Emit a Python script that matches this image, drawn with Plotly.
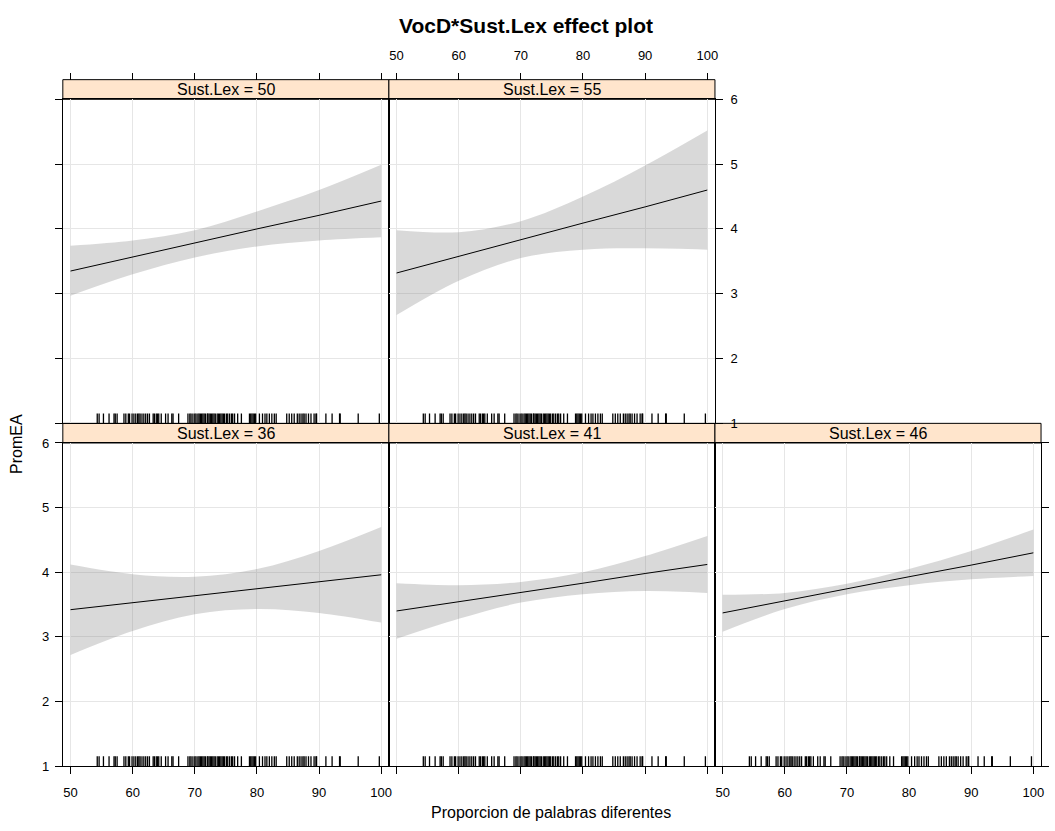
import plotly.graph_objects as go

# ---- data -------------------------------------------------------------
vocd_grid = [50, 60, 70, 80, 90, 100]

fit_50 = [3.35, 3.57, 3.78, 4.00, 4.21, 4.43]
lower_50 = [2.97, 3.30, 3.56, 3.73, 3.82, 3.87]
upper_50 = [3.74, 3.82, 3.98, 4.27, 4.60, 4.99]

fit_55 = [3.32, 3.58, 3.83, 4.09, 4.34, 4.60]
lower_55 = [2.67, 3.20, 3.55, 3.68, 3.70, 3.68]
upper_55 = [3.98, 3.95, 4.12, 4.50, 4.98, 5.52]

fit_36 = [3.42, 3.53, 3.64, 3.74, 3.85, 3.96]
lower_36 = [2.72, 3.09, 3.35, 3.43, 3.37, 3.22]
upper_36 = [4.12, 3.97, 3.93, 4.05, 4.33, 4.70]

fit_41 = [3.40, 3.54, 3.69, 3.83, 3.98, 4.12]
lower_41 = [2.97, 3.28, 3.53, 3.66, 3.71, 3.68]
upper_41 = [3.83, 3.80, 3.85, 4.00, 4.25, 4.56]

fit_46 = [3.37, 3.56, 3.74, 3.93, 4.11, 4.30]
lower_46 = [3.08, 3.43, 3.66, 3.80, 3.89, 3.94]
upper_46 = [3.65, 3.68, 3.82, 4.05, 4.33, 4.66]

# observed VocD values shown as a rug in every panel
rug_vocd = [
    54.3, 54.6, 55.3, 56.2, 57.0, 57.2, 57.5, 58.6, 58.9, 59.3, 59.5, 59.9,
    60.2, 60.5, 60.8, 61.0, 61.2, 61.5, 61.8, 62.1, 62.4, 62.7, 63.3, 63.5,
    63.8, 64.0, 64.2, 64.6, 65.3, 65.7, 66.3, 66.5, 67.4, 68.9, 69.2, 69.4,
    69.7, 70.0, 70.2, 70.5, 70.7, 70.9, 71.1, 71.3, 71.5, 71.7, 72.0, 72.1,
    72.3, 72.5, 72.7, 72.9, 73.1, 73.3, 73.6, 73.8, 74.0, 74.2, 74.4, 74.6,
    74.8, 75.1, 75.3, 75.6, 75.9, 76.1, 76.4, 76.9, 77.5, 78.8, 79.0, 79.2,
    79.4, 79.6, 79.8, 80.4, 80.9, 81.3, 81.6, 82.0, 82.4, 82.8, 83.1, 84.8,
    85.2, 85.6, 86.0, 86.5, 86.8, 87.1, 87.4, 87.6, 87.9, 88.3, 88.7, 89.2,
    89.5, 89.6, 91.1, 92.1, 93.3, 93.4, 96.3, 99.7,
]

x_ticks = [50, 60, 70, 80, 90, 100]
y_ticks = [1, 2, 3, 4, 5, 6]
x_range = [48.76, 101.24]
y_range = [1, 6]

panel_labels = ["Sust.Lex = 50", "Sust.Lex = 55",
                "Sust.Lex = 36", "Sust.Lex = 41", "Sust.Lex = 46"]
panel_series = [(fit_50, lower_50, upper_50), (fit_55, lower_55, upper_55),
                (fit_36, lower_36, upper_36), (fit_41, lower_41, upper_41),
                (fit_46, lower_46, upper_46)]
panel_cells = [(0, 0), (1, 0), (0, 1), (1, 1), (2, 1)]  # (column, row)

# ---- layout geometry (pixels) ------------------------------------------
W, H = 1055, 831
col_left = [63, 390, 717]
panel_w = 327
row_top = [94, 444]
row_bottom = [424, 773]
strip_h = 20

FONT = "Liberation Sans, Arial, Helvetica, sans-serif"


def fx(p):
    return p / W


def fy(p):
    return 1 - p / H


tick_font = dict(family=FONT, size=13, color="black")
grid_col = "#e6e6e6"

fig = go.Figure()
layout = dict(width=W, height=H, autosize=False,
              margin=dict(l=0, r=0, t=0, b=0),
              plot_bgcolor="white", paper_bgcolor="white",
              showlegend=False, font=dict(family=FONT, color="black"))
shapes = []
annotations = []

for i, (label, (fit, lo, up), (c, r)) in enumerate(
        zip(panel_labels, panel_series, panel_cells), start=1):
    xa, ya = f"x{i}", f"y{i}"
    # confidence band
    fig.add_trace(go.Scatter(x=vocd_grid, y=lo, mode="lines",
                             line=dict(width=0, shape="spline"),
                             xaxis=xa, yaxis=ya, hoverinfo="skip"))
    fig.add_trace(go.Scatter(x=vocd_grid, y=up, mode="lines",
                             line=dict(width=0, shape="spline"),
                             fill="tonexty", fillcolor="rgba(128,128,128,0.30)",
                             xaxis=xa, yaxis=ya, hoverinfo="skip"))
    # fitted effect
    fig.add_trace(go.Scatter(x=vocd_grid, y=fit, mode="lines",
                             line=dict(color="black", width=1),
                             xaxis=xa, yaxis=ya))
    # rug
    fig.add_trace(go.Scatter(x=rug_vocd, y=[y_range[0]] * len(rug_vocd),
                             mode="markers", cliponaxis=True,
                             marker=dict(symbol="line-ns", size=14,
                                         line=dict(width=1.3, color="black")),
                             xaxis=xa, yaxis=ya, hoverinfo="skip"))

    x0, x1 = col_left[c], col_left[c] + panel_w
    y0, y1 = row_top[r], row_bottom[r]
    bottom_row = r == 1
    layout[f"xaxis{i}"] = dict(
        domain=[fx(x0), fx(x1)], range=x_range, anchor=ya,
        tickvals=x_ticks, ticks="outside" if bottom_row else "",
        ticklen=7, tickcolor="black", tickwidth=1, ticklabelstandoff=7,
        showticklabels=bottom_row and c in (0, 2), tickfont=tick_font,
        showgrid=True, gridcolor=grid_col, gridwidth=1, zeroline=False,
        showline=True, mirror=True, linecolor="black", linewidth=1)
    layout[f"yaxis{i}"] = dict(
        domain=[fy(y1), fy(y0)], range=y_range, anchor=xa,
        tickvals=y_ticks, ticks="outside" if c == 0 else "",
        ticklen=7, tickcolor="black", tickwidth=1, ticklabelstandoff=3,
        showticklabels=(c == 0 and bottom_row), tickfont=tick_font,
        showgrid=True, gridcolor=grid_col, gridwidth=1, zeroline=False,
        showline=True, mirror=True, linecolor="black", linewidth=1)

    # strip
    shapes.append(dict(type="rect", xref="paper", yref="paper",
                       x0=fx(x0), x1=fx(x1), y0=fy(y0), y1=fy(y0 - strip_h),
                       fillcolor="#ffe5cc", line=dict(color="black", width=1),
                       layer="below"))
    annotations.append(dict(text=label, xref="paper", yref="paper",
                            x=fx((x0 + x1) / 2), y=fy(y0 - strip_h / 2),
                            showarrow=False, xanchor="center", yanchor="middle",
                            font=dict(family=FONT, size=16, color="black")))

# top axes (above the strips) for the upper row
for j, (base, show) in enumerate([(1, False), (2, True)]):
    k = 6 + j
    c, r = panel_cells[base - 1]
    x0 = col_left[c]
    layout[f"xaxis{k}"] = dict(
        domain=[fx(x0), fx(x0 + panel_w)], range=x_range,
        overlaying=f"x{base}", side="top", anchor="free",
        position=fy(row_top[r] - strip_h),
        tickvals=x_ticks, ticks="outside", ticklen=7, tickcolor="black",
        tickwidth=1, ticklabelstandoff=7, showticklabels=show,
        tickfont=tick_font, showgrid=False, zeroline=False, showline=False)
    fig.add_trace(go.Scatter(x=[], y=[], xaxis=f"x{k}", yaxis=f"y{base}"))

# right axes
for j, (base, show) in enumerate([(2, True), (5, False)]):
    k = 8 + j
    c, r = panel_cells[base - 1]
    layout[f"yaxis{k}"] = dict(
        domain=[fy(row_bottom[r]), fy(row_top[r])], range=y_range,
        overlaying=f"y{base}", side="right", anchor=f"x{base}",
        tickvals=y_ticks, ticks="outside", ticklen=7, tickcolor="black",
        tickwidth=1, ticklabelstandoff=5, showticklabels=show,
        tickfont=tick_font, showgrid=False, zeroline=False, showline=False)
    fig.add_trace(go.Scatter(x=[], y=[], xaxis=f"x{base}", yaxis=f"y{k}"))

annotations.append(dict(text="<b>VocD*Sust.Lex effect plot</b>",
                        xref="paper", yref="paper", x=fx(527), y=fy(19),
                        showarrow=False, xanchor="center", yanchor="middle",
                        font=dict(family=FONT, size=21, color="black")))
annotations.append(dict(text="Proporcion de palabras diferentes",
                        xref="paper", yref="paper", x=fx(553), y=fy(820),
                        showarrow=False, xanchor="center", yanchor="middle",
                        font=dict(family=FONT, size=16, color="black")))
annotations.append(dict(text="PromEA", textangle=-90,
                        xref="paper", yref="paper", x=fx(17), y=fy(445),
                        showarrow=False, xanchor="center", yanchor="middle",
                        font=dict(family=FONT, size=16, color="black")))

layout["shapes"] = shapes
layout["annotations"] = annotations
fig.update_layout(**layout)
fig.write_html("out.html")
